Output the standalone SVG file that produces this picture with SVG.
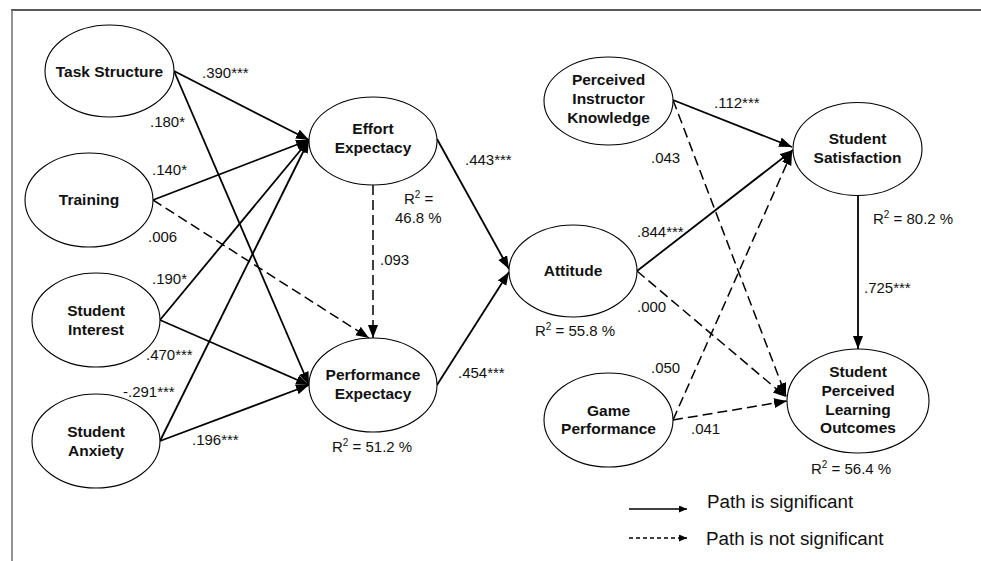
<svg xmlns="http://www.w3.org/2000/svg" width="981" height="561" viewBox="0 0 981 561">
<style>
.node ellipse{fill:#fff;stroke:#000;stroke-width:1.1}
.node text{font-family:"Liberation Sans",Arial,sans-serif;font-weight:bold;font-size:15.5px;text-anchor:middle;fill:#111}
.lbl{font-family:"Liberation Sans",Arial,sans-serif;font-size:15px;fill:#111}
.leg{font-family:"Liberation Sans",Arial,sans-serif;font-size:18.8px;fill:#111}
.sig{stroke:#000;stroke-width:1.8;fill:none;marker-end:url(#ah)}
.ns{stroke:#000;stroke-width:1.5;fill:none;stroke-dasharray:10,5;marker-end:url(#ah)}
</style>
<defs>
<marker id="ah" markerUnits="userSpaceOnUse" markerWidth="14" markerHeight="12" refX="13" refY="5" orient="auto">
<path d="M0,0 L13,5 L0,10 z" fill="#000"/>
</marker>
<marker id="ahs" markerUnits="userSpaceOnUse" markerWidth="10" markerHeight="8" refX="8" refY="3.5" orient="auto">
<path d="M0,0 L8,3.5 L0,7 z" fill="#000"/>
</marker>
</defs>
<rect width="981" height="561" fill="#fff"/>
<line x1="11" y1="10" x2="981" y2="10" stroke="#222" stroke-width="1.5"/>
<line x1="12" y1="10" x2="12" y2="561" stroke="#777" stroke-width="1.6"/>

<g id="connectors">
<line class="sig" x1="174" y1="71" x2="309" y2="140"/>
<line class="sig" x1="153" y1="200" x2="309" y2="140"/>
<line class="sig" x1="160" y1="320" x2="309" y2="140"/>
<line class="sig" x1="160" y1="441" x2="309" y2="140"/>
<line class="sig" x1="174" y1="71" x2="309" y2="385"/>
<line class="ns" x1="153" y1="200" x2="369" y2="338"/>
<line class="sig" x1="160" y1="320" x2="309" y2="385"/>
<line class="sig" x1="160" y1="441" x2="309" y2="385"/>
<line class="ns" x1="373" y1="185" x2="373" y2="338"/>
<line class="sig" x1="437" y1="139" x2="509" y2="269"/>
<line class="sig" x1="437" y1="385" x2="509" y2="272"/>
<line class="sig" x1="637" y1="271" x2="793" y2="150"/>
<line class="ns" x1="637" y1="271" x2="786" y2="397"/>
<line class="sig" x1="673" y1="100" x2="792" y2="147"/>
<line class="ns" x1="673" y1="100" x2="786" y2="396"/>
<line class="ns" x1="673" y1="420" x2="792" y2="152"/>
<line class="ns" x1="673" y1="420" x2="787" y2="401"/>
<line class="sig" x1="858" y1="196" x2="858" y2="349"/>
</g>

<g id="task-structure" class="node"><ellipse cx="109.5" cy="71" rx="64.5" ry="46"/><text x="109.5" y="77">Task Structure</text></g>
<g id="training" class="node"><ellipse cx="89" cy="200" rx="64" ry="47"/><text x="89" y="205">Training</text></g>
<g id="student-interest" class="node"><ellipse cx="96" cy="320" rx="64" ry="47"/><text x="96" y="316">Student</text><text x="96" y="335">Interest</text></g>
<g id="student-anxiety" class="node"><ellipse cx="96" cy="441" rx="64" ry="47"/><text x="96" y="437">Student</text><text x="96" y="456">Anxiety</text></g>
<g id="effort-expectancy" class="node"><ellipse cx="373" cy="141" rx="64" ry="44"/><text x="373" y="134">Effort</text><text x="373" y="153">Expectacy</text></g>
<g id="performance-expectancy" class="node"><ellipse cx="373" cy="385" rx="64" ry="47"/><text x="373" y="380">Performance</text><text x="373" y="399">Expectacy</text></g>
<g id="attitude" class="node"><ellipse cx="573" cy="271" rx="64" ry="46"/><text x="573" y="276">Attitude</text></g>
<g id="perceived-instructor-knowledge" class="node"><ellipse cx="608.5" cy="101" rx="64.5" ry="44"/><text x="608.5" y="85">Perceived</text><text x="608.5" y="104">Instructor</text><text x="608.5" y="123">Knowledge</text></g>
<g id="student-satisfaction" class="node"><ellipse cx="857.5" cy="149" rx="64.5" ry="46.5"/><text x="857.5" y="144">Student</text><text x="857.5" y="163">Satisfaction</text></g>
<g id="game-performance" class="node"><ellipse cx="608.5" cy="420" rx="64.5" ry="47"/><text x="608.5" y="416">Game</text><text x="608.5" y="434">Performance</text></g>
<g id="student-perceived-learning-outcomes" class="node"><ellipse cx="858" cy="401" rx="71" ry="52"/><text x="858" y="377">Student</text><text x="858" y="396">Perceived</text><text x="858" y="415">Learning</text><text x="858" y="433">Outcomes</text></g>

<g id="labels" class="lbl">
<text x="202" y="78">.390***</text>
<text x="150" y="127">.180*</text>
<text x="152" y="175">.140*</text>
<text x="148" y="242">.006</text>
<text x="152" y="284">.190*</text>
<text x="146" y="360">.470***</text>
<text x="123" y="397">-.291***</text>
<text x="192" y="445">.196***</text>
<text x="465" y="165">.443***</text>
<text x="404" y="204">R<tspan font-size="10" dy="-6">2</tspan><tspan dy="6"> =</tspan></text>
<text x="395" y="223">46.8 %</text>
<text x="380" y="265">.093</text>
<text x="458" y="378">.454***</text>
<text x="332" y="452">R<tspan font-size="10" dy="-6">2</tspan><tspan dy="6"> = 51.2 %</tspan></text>
<text x="535" y="336">R<tspan font-size="10" dy="-6">2</tspan><tspan dy="6"> = 55.8 %</tspan></text>
<text x="714" y="108">.112***</text>
<text x="651" y="163">.043</text>
<text x="637" y="237">.844***</text>
<text x="873" y="224">R<tspan font-size="10" dy="-6">2</tspan><tspan dy="6"> = 80.2 %</tspan></text>
<text x="864" y="293">.725***</text>
<text x="637" y="312">.000</text>
<text x="651" y="373">.050</text>
<text x="691" y="434">.041</text>
<text x="811" y="474">R<tspan font-size="10" dy="-6">2</tspan><tspan dy="6"> = 56.4 %</tspan></text>
</g>

<g id="legend">
<line x1="629" y1="509" x2="687" y2="509" stroke="#000" stroke-width="1.3" marker-end="url(#ahs)"/>
<line x1="629" y1="538" x2="687" y2="538" stroke="#000" stroke-width="1.3" stroke-dasharray="4,3" marker-end="url(#ahs)"/>
<text class="leg" x="707" y="508">Path is significant</text>
<text class="leg" x="706" y="545">Path is not significant</text>
</g>
</svg>
